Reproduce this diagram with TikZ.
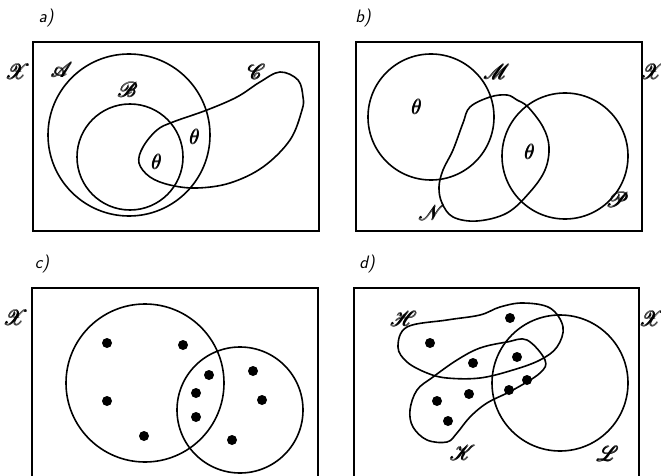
\documentclass[tikz,border=0pt]{standalone}
\usepackage{amsmath}
\usepackage{mathrsfs}

\begin{document}
\begin{tikzpicture}[x=1pt,y=-1pt,line width=1.6pt,
  letra/.style={font=\fontsize{22}{22}\selectfont},
  rotulo/.style={font=\sffamily\itshape\fontsize{18}{18}\selectfont},
  vacio/.style={font=\fontsize{20}{20}\selectfont}]
  \useasboundingbox (0,0) rectangle (661,476);
  % a) tres conjuntos en el universo
  \node[rotulo] (ra) at (46,18) {a)};
  \draw (33,42) rectangle (319,231);
  \node[letra] (Xa) at (18,72) {$\pmb{\mathscr{X}}$};
  \draw (129,135) circle[radius=81];
  \draw (130,157) circle[radius=53];
  \draw plot[smooth cycle,tension=0.6] coordinates {(280,72) (298,80) (303,97) (302,110) (290,140) (263,167) (230,183) (197,188) (170,185) (150,177) (139,163) (143,147) (157,130) (173,122) (207,110) (237,97) (260,82)};
  \node[letra] (A) at (62,70) {$\pmb{\mathscr{A}}$};
  \node[letra] (B) at (128,90) {$\pmb{\mathscr{B}}$};
  \node[letra] (C) at (257,72) {$\pmb{\mathscr{C}}$};
  \node[vacio] (va1) at (157,162) {$\pmb{\theta}$};
  \node[vacio] (va2) at (195,137) {$\pmb{\theta}$};
  % b) otros tres conjuntos
  \node[rotulo] (rb) at (363,18) {b)};
  \draw (356,42) rectangle (642,231);
  \node[letra] (Xb) at (653,72) {$\pmb{\mathscr{X}}$};
  \draw (431,117) circle[radius=63];
  \draw (565,156) circle[radius=63];
  \draw plot[smooth cycle,tension=0.6] coordinates {(490,97) (507,95) (517,100) (528,107) (543,127) (549,147) (545,170) (530,192) (507,213) (477,221) (453,217) (442,203) (439,187) (443,170) (453,150) (463,123) (470,107)};
  \node[letra] (M) at (497,72) {$\pmb{\mathscr{M}}$};
  \node[letra] (N) at (432,213) {$\pmb{\mathscr{N}}$};
  \node[letra] (P) at (618,200) {$\pmb{\mathscr{P}}$};
  \node[vacio] (vb1) at (417,107) {$\pmb{\theta}$};
  \node[vacio] (vb2) at (530,152) {$\pmb{\theta}$};
  % c) dos conjuntos con elementos
  \node[rotulo] (rc) at (42,264) {c)};
  \draw (32,476) -- (32,288) -- (318,288) -- (318,476);
  \node[letra] (Xc) at (16,318) {$\pmb{\mathscr{X}}$};
  \draw (145,383) circle[radius=79];
  \draw (240,410) circle[radius=63];
  \foreach \p in {(107,343),(183,345),(107,401),(144,436),(209,375),(196,393),(196,417),(253,371),(262,400),(232,440)}
    \fill \p circle[radius=5];
  % d) tres conjuntos con elementos
  \node[rotulo] (rd) at (367,264) {d)};
  \draw (354,476) -- (354,288) -- (639,288) -- (639,476);
  \node[letra] (Xd) at (652,319) {$\pmb{\mathscr{X}}$};
  \draw (560,383) circle[radius=68];
  \draw plot[smooth cycle,tension=0.6] coordinates {(398,347) (407,327) (447,320) (480,315) (500,307) (523,303) (550,308) (563,327) (557,347) (540,360) (513,370) (480,378) (447,378) (427,373) (407,362)};
  \draw plot[smooth cycle,tension=0.6] coordinates {(507,342) (527,340) (545,360) (540,373) (513,390) (487,403) (470,417) (457,433) (447,442) (427,440) (413,427) (410,410) (417,390) (433,377) (457,360) (480,348)};
  \foreach \p in {(430,343),(510,318),(473,363),(517,357),(469,394),(437,401),(448,421),(509,390),(527,380)}
    \fill \p circle[radius=5];
  \node[letra] (H) at (404,319) {$\pmb{\mathscr{H}}$};
  \node[letra] (K) at (463,453) {$\pmb{\mathscr{K}}$};
  \node[letra] (L) at (608,454) {$\pmb{\mathscr{L}}$};
\end{tikzpicture}
\end{document}
